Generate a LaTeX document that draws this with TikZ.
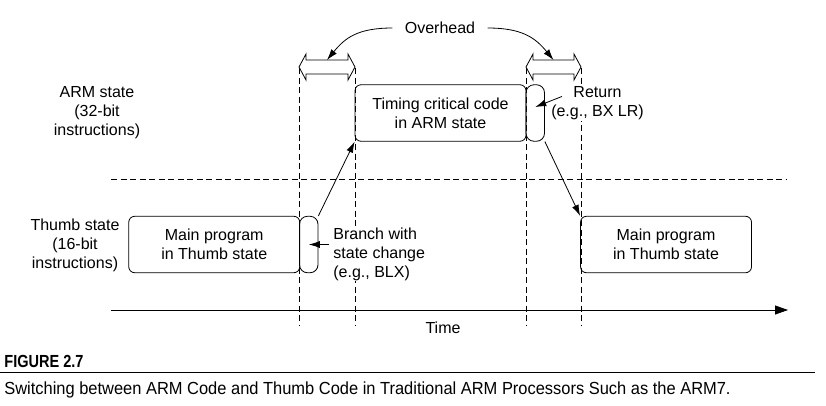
\documentclass[tikz,border=0pt]{standalone}
\usepackage{fontspec}
\setmainfont{Liberation Sans}
\newfontfamily\capfont[FakeStretch=0.94]{Liberation Sans}
\newfontfamily\figfont[FakeStretch=0.83]{Liberation Sans}
\usetikzlibrary{arrows.meta}

\tikzset{
    codebox/.style={draw, rounded corners=6pt, minimum width=171pt, minimum height=56.5pt, align=center, inner sep=0pt},
    switchbox/.style={draw, rounded corners=8pt, minimum width=18.5pt, minimum height=56.5pt, inner sep=0pt},
    guide/.style={dash pattern=on 6pt off 3.5pt},
    note/.style={fill=white, inner ysep=1pt},
    arr/.style={-{Latex[length=11pt,width=7pt]}},
}

\begin{document}
\begin{tikzpicture}[x=1pt, y=-1pt, line width=0.8pt, font=\fontsize{16}{19}\selectfont]
\useasboundingbox (0,0) rectangle (826,405);

% state labels
\node [align=center] (armlbl) at (97,113) {ARM state\\(32-bit\\instructions)};
\node [align=center] (thumblbl) at (75,245) {Thumb state\\(16-bit\\instructions)};

% state boundary and time axis
\draw [guide] (111,179) -- (787,179);
\coordinate (tstart) at (111,310);
\coordinate (tend) at (788,310);
\draw [-{Triangle[length=13pt,width=9pt]}] (tstart) -- (tend);
\node (time) at (443,328) {Time};

% switch boundaries
\foreach \x in {299, 355, 526, 581}{
    \draw [guide] (\x,68) -- (\x,325);
}

% overhead
\foreach \xa / \xb / \n in {299/355/ovla, 526/581/ovlb}{
    \draw [fill=white] (\xa,67) -- (\xa+7,54) -- (\xa+7,60) -- (\xb-7,60) -- (\xb-7,54) -- (\xb,67)
        -- (\xb-7,80) -- (\xb-7,74) -- (\xa+7,74) -- (\xa+7,80) -- cycle;
    \coordinate (\n) at ({(\xa+\xb)/2},60);
}
\node [inner xsep=12pt] (ovh) at (440,28) {Overhead};
\draw [arr] (ovh.west) .. controls +(-35,0) and +(18,-22) .. (ovla);
\draw [arr] (ovh.east) .. controls +(35,0) and +(-18,-22) .. (ovlb);

% ARM state
\node [codebox] (armcode) at (440.5,113) {Timing critical code\\in ARM state};
\node [switchbox] (retsw) at (535.25,113) {};
\node [note, align=center, inner xsep=0pt] (rettext) at (597.5,103.5) {Return\\(e.g., BX LR)};
\draw [arr] ([shift={(11,-7)}]rettext.west) -- ([shift={(0,-6)}]retsw.center);

% Thumb state
\node [codebox] (lmain) at (214.25,244.5) {Main program\\in Thumb state};
\node [switchbox] (branch) at (308.75,244.5) {};
\node [codebox] (rmain) at (666,244.5) {Main program\\in Thumb state};
\node [note, align=left, anchor=west, inner xsep=4pt] (brtext) at (329,254) {Branch with\\state change\\(e.g., BLX)};
\draw [arr] (brtext.west |- branch.center) -- (branch.center);

% state changes
\draw [arr] (branch.north east) -- (armcode.south west);
\draw [arr] (retsw.south east) -- (rmain.north west);

% caption
\node [anchor=base west, inner sep=0pt, font=\figfont\bfseries\fontsize{17.5}{20}\selectfont] (fighead) at (4,367) {FIGURE 2.7};
\draw [line width=1pt] (0,372) -- (815,372);
\node [anchor=base west, inner sep=0pt, font=\capfont\fontsize{17.5}{20}\selectfont] (figcap) at (4,394) {Switching between ARM Code and Thumb Code in Traditional ARM Processors Such as the ARM7.};

\end{tikzpicture}
\end{document}
